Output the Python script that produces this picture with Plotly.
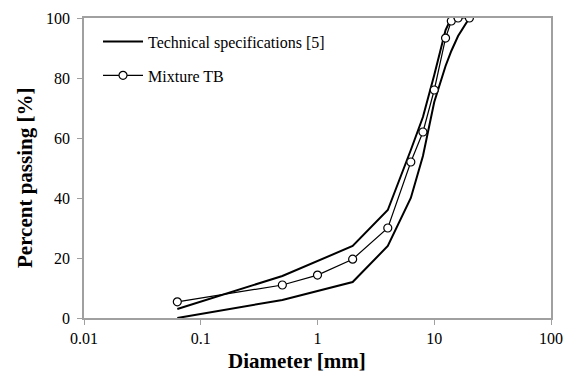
import plotly.graph_objects as go

# Data
spec_upper_d = [0.063, 0.5, 2, 4, 6.3, 8, 10, 12.5, 14, 16]
spec_upper_p = [3, 14, 24, 36, 56, 67, 81, 96, 100, 100]
spec_lower_d = [0.063, 0.5, 2, 4, 6.3, 8, 10, 12.5, 14, 16, 20]
spec_lower_p = [0, 6, 12, 24, 40, 54, 72, 84, 89, 94, 100]
mix_d = [0.063, 0.5, 1, 2, 4, 6.3, 8, 10, 12.5, 14, 16, 20]
mix_p = [5.4, 11.0, 14.3, 19.6, 30, 52, 62, 76, 93.3, 99, 100, 100]

x_ticks = [0.01, 0.1, 1, 10, 100]
x_ticktext = ["0.01", "0.1", "1", "10", "100"]
y_ticks = [0, 20, 40, 60, 80, 100]

x_title = "Diameter [mm]"
y_title = "Percent passing [%]"

FONT = "Times New Roman, Liberation Serif, serif"
AX = "#a0a0a0"

fig = go.Figure()
fig.add_trace(go.Scatter(
    x=spec_upper_d + [None] + spec_lower_d,
    y=spec_upper_p + [None] + spec_lower_p,
    mode="lines", line=dict(color="black", width=2),
    name="Technical specifications [5]", connectgaps=False,
    legendgroup="a"))
fig.add_trace(go.Scatter(
    x=mix_d, y=mix_p, mode="lines+markers",
    line=dict(color="black", width=1.2),
    marker=dict(symbol="circle", size=8, color="white",
                line=dict(color="black", width=1.2)),
    name="Mixture TB", legendgroup="b"))

fig.update_layout(
    width=574, height=376,
    margin=dict(l=84, r=23, t=18, b=58),
    paper_bgcolor="white", plot_bgcolor="white",
    font=dict(family=FONT, size=16, color="black"),
    showlegend=True,
    legend=dict(x=0.03, y=0.978, xanchor="left", yanchor="top",
                bgcolor="rgba(0,0,0,0)", font=dict(size=16, family=FONT),
                itemwidth=40, tracegroupgap=10),
    annotations=[
        dict(text="<b>" + x_title + "</b>", xref="paper", yref="paper",
             x=(297 - 84) / 467, y=-(361 - 318) / 300, xanchor="center", yanchor="middle",
             showarrow=False, font=dict(size=21, family=FONT)),
        dict(text="<b>" + y_title + "</b>", xref="paper", yref="paper",
             x=-(84 - 25) / 467, y=(318 - 178) / 300, xanchor="center", yanchor="middle",
             textangle=-90, showarrow=False, font=dict(size=21, family=FONT)),
    ],
)
fig.update_xaxes(
    type="log", range=[-2, 2], tickvals=x_ticks, ticktext=x_ticktext,
    showgrid=False, zeroline=False, showline=True, linecolor=AX, linewidth=1.5,
    mirror=True, ticks="outside", ticklen=5, tickcolor=AX, automargin=False,
    tickfont=dict(size=16, family=FONT),
)
fig.update_yaxes(
    range=[0, 100], tickvals=y_ticks,
    showgrid=False, zeroline=False, showline=True, linecolor=AX, linewidth=1.5,
    mirror=True, ticks="outside", ticklen=5, tickcolor=AX, automargin=False,
    tickfont=dict(size=16, family=FONT), ticklabelstandoff=4,
)

fig.write_html("out.html")
